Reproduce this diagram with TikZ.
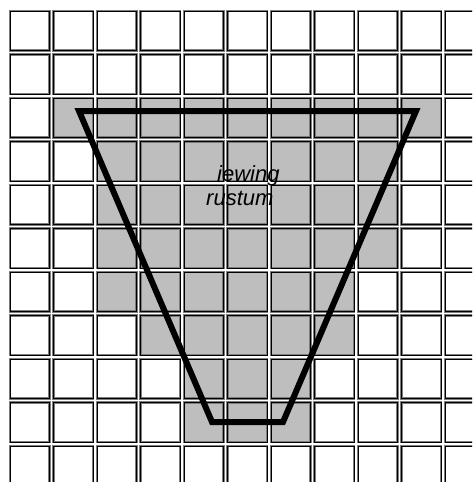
\documentclass[tikz,border=0pt]{standalone}
\usepackage{fontspec}
\setmainfont{Liberation Sans}
\usetikzlibrary{positioning}
\definecolor{cellfill}{RGB}{190,190,190}
\definecolor{celledge}{RGB}{125,125,125}
\tikzset{
  cell/.style={preaction={draw=celledge, line width=2.2pt},
    draw=black, line width=0.9pt},
  shaded/.style={fill=cellfill},
  frustum/.style={draw=black, line width=6pt, line join=miter},
  tag/.style={font=\fontsize{22}{26}\selectfont\itshape, inner sep=0pt, anchor=base west}
}

\begin{document}
\begin{tikzpicture}[x=1pt, y=-1pt]
  \clip (0,0) rectangle (472,482);
  \fill[white] (0,0) rectangle (472,482);

  % --- shaded cells ---
  \foreach \r/\a/\b in {2/1/9, 3/2/8, 4/2/8, 5/2/8, 6/2/7, 7/3/7, 8/4/6, 9/4/6}
    \foreach \c in {\a,...,\b}
      \fill[shaded] ({9+43.5*\c}, {10+43.5*\r}) rectangle ++(41.5,41.5);

  % --- grid ---
  \foreach \r in {0,...,10}
    \foreach \c in {0,...,10}
      \draw[cell] ({10+43.5*\c}, {11+43.5*\r}) rectangle ++(39.5,39.5);

  % --- frustum outline ---
  \coordinate (TL) at (79,111);
  \coordinate (TR) at (416,111);
  \coordinate (BR) at (283,422);
  \coordinate (BL) at (212,422);
  \draw[frustum] (TL) -- (TR) -- (BR) -- (BL) -- cycle;

  % --- label ---
  \node[tag] (iewing) at (217,181) {iewing};
  \node[tag] (rustum) at (206,205) {rustum};
\end{tikzpicture}
\end{document}
